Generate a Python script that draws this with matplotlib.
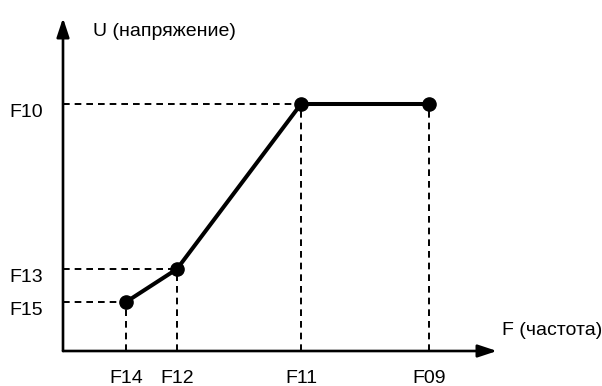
import matplotlib
matplotlib.use("Agg")
import matplotlib.pyplot as plt

plt.rcParams['font.family'] = ['Liberation Sans', 'DejaVu Sans']
plt.rcParams['lines.scale_dashes'] = False

# Data (abstract units measured from the origin)
freq_labels = ["F14", "F12", "F11", "F09"]
freq_values = [63, 114, 238, 366]
volt_labels = ["F15", "F13", "F10", "F10"]
volt_values = [49, 82, 247, 247]
y_tick_labels = ["F15", "F13", "F10"]
y_tick_values = [49, 82, 247]
x_axis_title = "F (частота)"
y_axis_title = "U (напряжение)"

W, H = 602, 386
fig = plt.figure(figsize=(W / 100, H / 100), dpi=100)
ox, oy = 63, 351          # origin in pixels
xmax_px, ymax_px = 497, 18
ax = fig.add_axes([ox / W, (H - oy) / H, (xmax_px - ox) / W, (oy - ymax_px) / H])
ax.set_xlim(0, xmax_px - ox)
ax.set_ylim(0, oy - ymax_px)
ax.axis('off')

fs = 14
dash = (0, (4.8, 3.6))

# axes with arrows
arrow = dict(arrowstyle="-|>,head_length=1.15,head_width=0.38", lw=1.9,
             color="black", shrinkA=0, shrinkB=0)
ax.annotate("", xy=(xmax_px - ox, 0), xytext=(0, 0), arrowprops=arrow, annotation_clip=False)
ax.annotate("", xy=(0, oy - ymax_px), xytext=(0, 0), arrowprops=arrow, annotation_clip=False)

# dashed guides
for xv, yv in zip(freq_values, volt_values):
    ax.plot([xv, xv], [0, yv], linestyle=dash, color="black", lw=1.4, clip_on=False)
for xv, yv in zip(freq_values[:3], volt_values[:3]):
    ax.plot([0, xv], [yv, yv], linestyle=dash, color="black", lw=1.4, clip_on=False)

# main line
ax.plot(freq_values, volt_values, color="black", lw=2.9, marker="o", markersize=9.5,
        clip_on=False, zorder=5)

# tick labels
for lbl, xv in zip(freq_labels, freq_values):
    ax.annotate(lbl, xy=(xv, 0), xytext=(0, -32), textcoords="offset pixels",
                ha="center", va="baseline", fontsize=fs, annotation_clip=False)
for lbl, yv in zip(y_tick_labels, y_tick_values):
    ax.annotate(lbl, xy=(0, yv), xytext=(-20, -13), textcoords="offset pixels",
                ha="right", va="baseline", fontsize=fs, annotation_clip=False)

# axis titles
ax.annotate(y_axis_title, xy=(0, oy - ymax_px), xytext=(30, -18), textcoords="offset pixels",
            ha="left", va="baseline", fontsize=fs, annotation_clip=False)
ax.annotate(x_axis_title, xy=(xmax_px - ox, 0), xytext=(5, 16), textcoords="offset pixels",
            ha="left", va="baseline", fontsize=fs, annotation_clip=False)

fig.savefig("out.png", dpi=100)
